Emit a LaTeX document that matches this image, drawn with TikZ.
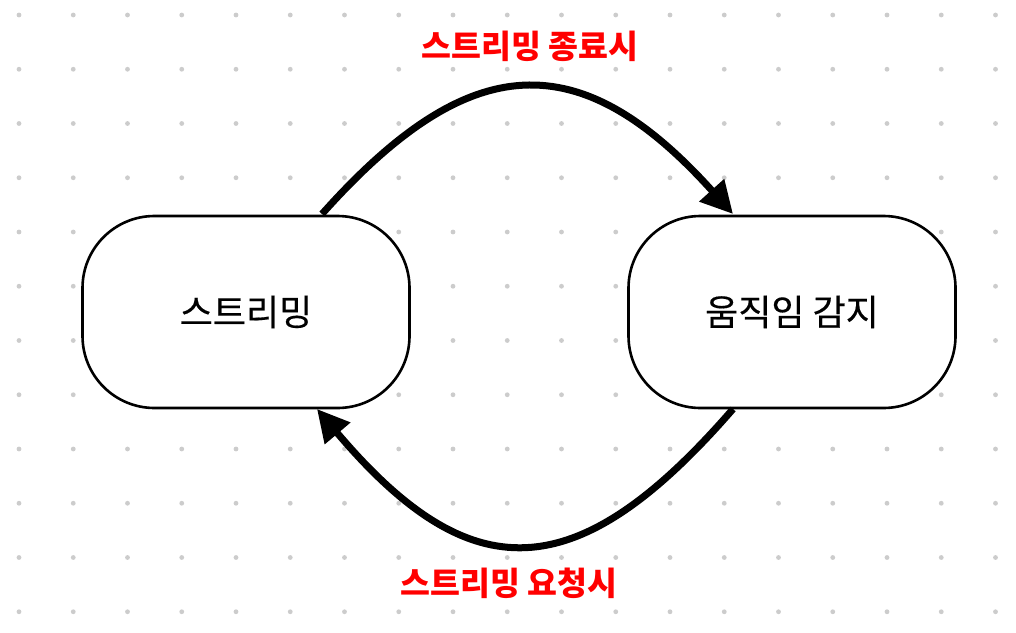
\documentclass[tikz,border=0pt]{standalone}
\usepackage{fontspec}
\setmainfont{Noto Sans CJK KR}
\newfontfamily\boxfont[FakeBold=0.4]{Noto Sans CJK KR}
\usetikzlibrary{arrows.meta}
\definecolor{dotgray}{RGB}{204,204,204}
\definecolor{lblred}{RGB}{255,0,0}
\tikzset{
  statebox/.style={draw=black, line width=2.6pt, fill=white, rounded corners=72pt,
    minimum width=327pt, minimum height=192pt, inner sep=0pt,
    font=\boxfont\fontsize{36}{40}\selectfont},
  flow/.style={line width=7pt, -{Triangle[length=32pt,width=32pt]}},
  flowlabel/.style={text=lblred, inner sep=0pt, font=\fontsize{32.5}{36}\selectfont\bfseries},
}
\begin{document}
\begin{tikzpicture}[x=1pt,y=-1pt]
\useasboundingbox (0,0) rectangle (1016,632);
\fill[white] (0,0) rectangle (1016,632);
\foreach \i in {0,...,18} {
  \foreach \j in {0,...,11} {
    \fill[dotgray] ({19+\i*54.25},{15+\j*54.25}) circle (2.4pt);
  }
}
\node[statebox] (stream) at (246,312) {\raisebox{3pt}{스트리밍}};
\node[statebox] (motion) at (792,312) {\raisebox{3pt}{움직임 감지}};
\coordinate (s1) at (322,214);
\coordinate (m1) at (733,214);
\coordinate (m2) at (733,409);
\coordinate (s2) at (317,409);
\draw[flow] (s1) .. controls (470,48) and (580,44) .. (m1);
\draw[flow] (m2) .. controls (576,590) and (470,590) .. (s2);
\node[flowlabel] (endlbl) at (530,46) {스트리밍 종료시};
\node[flowlabel] (reqlbl) at (509,583) {스트리밍 요청시};
\end{tikzpicture}
\end{document}
